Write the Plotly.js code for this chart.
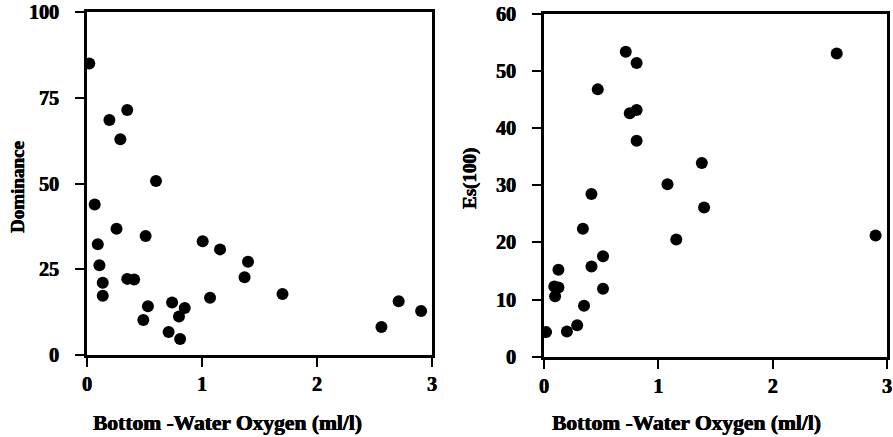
<!DOCTYPE html>
<html>
<head>
<meta charset="utf-8">
<script src="https://cdn.plot.ly/plotly-3.0.1.min.js"></script>
<style>html,body{margin:0;padding:0;background:#fff}#chart{width:893px;height:437px}</style>
</head>
<body>
<div id="chart"></div>
<script>
// Left panel: Dominance vs bottom-water oxygen
var domOxygen = [0.02, 0.195, 0.35, 0.29, 0.60, 0.067, 0.094, 0.108, 0.137, 0.137, 0.257, 0.51, 0.35, 0.41, 0.53, 0.49, 0.74, 0.80, 0.85, 0.71, 0.81, 1.006, 1.157, 1.07, 1.40, 1.37, 1.70, 2.56, 2.71, 2.905];
var dominance = [85.0, 68.5, 71.4, 62.9, 50.7, 43.9, 32.3, 26.2, 21.1, 17.3, 36.8, 34.7, 22.2, 22.0, 14.2, 10.2, 15.3, 11.2, 13.7, 6.7, 4.7, 33.2, 30.8, 16.7, 27.2, 22.7, 17.8, 8.2, 15.7, 12.8];
// Right panel: Es(100) vs bottom-water oxygen
var esOxygen = [0.715, 0.81, 0.47, 0.75, 0.81, 0.81, 1.38, 1.08, 2.56, 0.415, 1.40, 0.34, 1.157, 2.90, 0.516, 0.415, 0.126, 0.09, 0.126, 0.097, 0.516, 0.35, 0.29, 0.20, 0.018];
var es100 = [53.4, 51.4, 46.8, 42.6, 43.2, 37.8, 33.9, 30.2, 53.1, 28.5, 26.1, 22.4, 20.5, 21.2, 17.6, 15.8, 15.2, 12.3, 12.1, 10.6, 11.9, 8.9, 5.5, 4.4, 4.3];

var xTicks = [0, 1, 2, 3];
var domTicks = [0, 25, 50, 75, 100];
var esTicks = [0, 10, 20, 30, 40, 50, 60];
var xTitle = "Bottom -Water Oxygen (ml/l)";
var yTitleLeft = "Dominance";
var yTitleRight = "Es(100)";

var heavy = "0.5px 0 0 #000, -0.3px 0 0 #000";
var tickFont = {family: "Liberation Serif", size: 20, color: "#000", weight: 700, shadow: heavy};
var xTitleFont = {family: "Liberation Serif", size: 21.5, color: "#000", weight: 700, shadow: heavy};
var yTitleFont = {family: "Liberation Serif", size: 19, color: "#000", weight: 700, shadow: heavy};
var mk = {size: 12, color: "#000"};

var traces = [
  {x: domOxygen, y: dominance, type: "scatter", mode: "markers", marker: mk, xaxis: "x", yaxis: "y", hoverinfo: "x+y"},
  {x: esOxygen, y: es100, type: "scatter", mode: "markers", marker: mk, xaxis: "x2", yaxis: "y2", hoverinfo: "x+y"}
];

function ax(extra) {
  var base = {
    showline: true, mirror: true, linecolor: "#000", linewidth: 3,
    ticks: "outside", ticklen: 9, tickwidth: 2, tickcolor: "#000",
    showgrid: false, zeroline: false, tickfont: tickFont,
    automargin: false, fixedrange: true
  };
  for (var k in extra) base[k] = extra[k];
  return base;
}

function note(text, x, y, font, angle) {
  return {text: text, xref: "paper", yref: "paper", x: x, y: y, xanchor: "center", yanchor: "middle",
          showarrow: false, font: font, textangle: angle || 0};
}

var layout = {
  width: 893, height: 437,
  margin: {l: 0, r: 0, t: 0, b: 0},
  paper_bgcolor: "#fff", plot_bgcolor: "#fff",
  showlegend: false,
  xaxis: ax({domain: [0.0974, 0.4838], range: [0, 3], tickvals: xTicks, anchor: "y"}),
  yaxis: ax({domain: [0.1876, 0.9725], range: [0, 100], tickvals: domTicks, anchor: "x", ticklabelstandoff: 12}),
  xaxis2: ax({domain: [0.6092, 0.9933], range: [0, 3], tickvals: xTicks, anchor: "y2"}),
  yaxis2: ax({domain: [0.1838, 0.968], range: [0, 60], tickvals: esTicks, anchor: "x2", ticklabelstandoff: 12}),
  annotations: [
    note(xTitle, 0.2542, 0.032, xTitleFont),
    note(xTitle, 0.7693, 0.032, xTitleFont),
    note(yTitleLeft, 0.019, 0.572, yTitleFont, -90),
    note(yTitleRight, 0.5263, 0.5927, yTitleFont, -90)
  ]
};

Plotly.newPlot("chart", traces, layout, {displayModeBar: false, staticPlot: true});
</script>
</body>
</html>
